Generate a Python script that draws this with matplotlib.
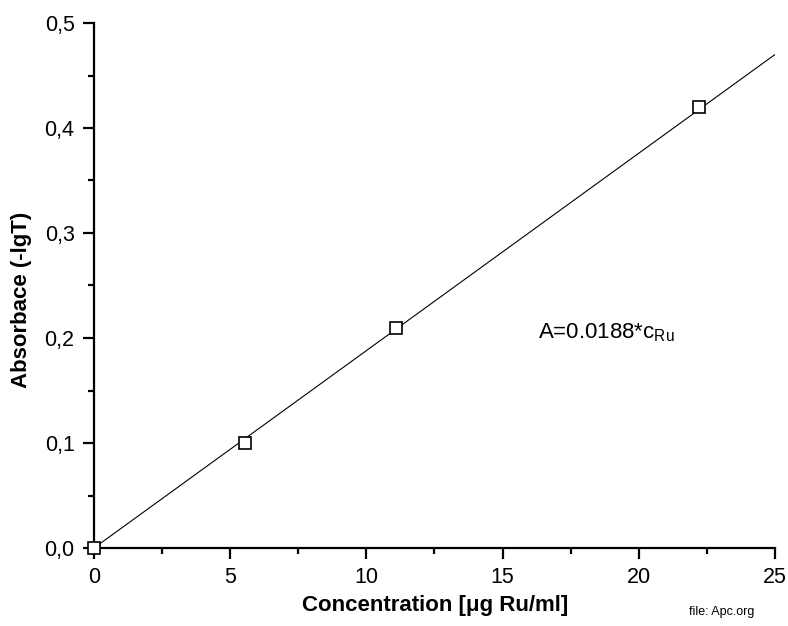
import matplotlib
matplotlib.use("Agg")
import matplotlib.pyplot as plt
import numpy as np
from matplotlib.ticker import MultipleLocator

plt.rcParams['font.family'] = ['Liberation Sans', 'DejaVu Sans']
plt.rcParams['mathtext.fontset'] = 'custom'
plt.rcParams['mathtext.rm'] = 'Liberation Sans'
plt.rcParams['mathtext.it'] = 'Liberation Sans:italic'
plt.rcParams['mathtext.bf'] = 'Liberation Sans:bold'

# Data
concentration = [0.0, 5.55, 11.1, 22.2]
absorbance = [0.0, 0.10, 0.21, 0.42]
slope = 0.0188
fit_x = [0.0, 25.0]
x_ticks = [0, 5, 10, 15, 20, 25]
x_tick_labels = ["0", "5", "10", "15", "20", "25"]
y_ticks = [0.0, 0.1, 0.2, 0.3, 0.4, 0.5]
y_tick_labels = ["0,0", "0,1", "0,2", "0,3", "0,4", "0,5"]

fig = plt.figure(figsize=(7.88, 6.26), dpi=100)
ax = fig.add_axes([94/788, 1-548/626, (775-94)/788, (548-23)/626])

fx = np.array(fit_x)
ax.plot(fx, slope*fx, color='black', lw=0.8, zorder=2)
ax.plot(concentration, absorbance, linestyle='none', marker='s', markersize=8,
        markerfacecolor='white', markeredgecolor='black', markeredgewidth=1.2,
        zorder=3, clip_on=False)

ax.set_xlim(0, 25)
ax.set_ylim(0, 0.5)
ax.set_xticks(x_ticks)
ax.set_xticklabels(x_tick_labels)
ax.set_yticks(y_ticks)
ax.set_yticklabels(y_tick_labels)
ax.xaxis.set_minor_locator(MultipleLocator(2.5))
ax.yaxis.set_minor_locator(MultipleLocator(0.05))

for s in ['top', 'right']:
    ax.spines[s].set_visible(False)
for s in ['left', 'bottom']:
    ax.spines[s].set_linewidth(1.6)

ax.tick_params(which='major', direction='out', length=8, width=1.6, labelsize=15.5, pad=6)
ax.tick_params(which='minor', direction='out', length=4, width=1.6)

fig.text(435/788, 1-606/626, 'Concentration [μg Ru/ml]', ha='center', va='center',
         fontsize=16, fontweight='bold')
fig.text(22/788, 1-300/626, 'Absorbace (-lgT)', ha='center', va='center',
         rotation=90, fontsize=16, fontweight='bold')
fig.text(722/788, 1-612/626, 'file: Apc.org', ha='center', va='center', fontsize=9)

ax.text(16.3, 0.2048, r'A=0.0188*c$_{\mathrm{Ru}}$', fontsize=16, ha='left', va='center')

fig.savefig('out.png', dpi=100)
